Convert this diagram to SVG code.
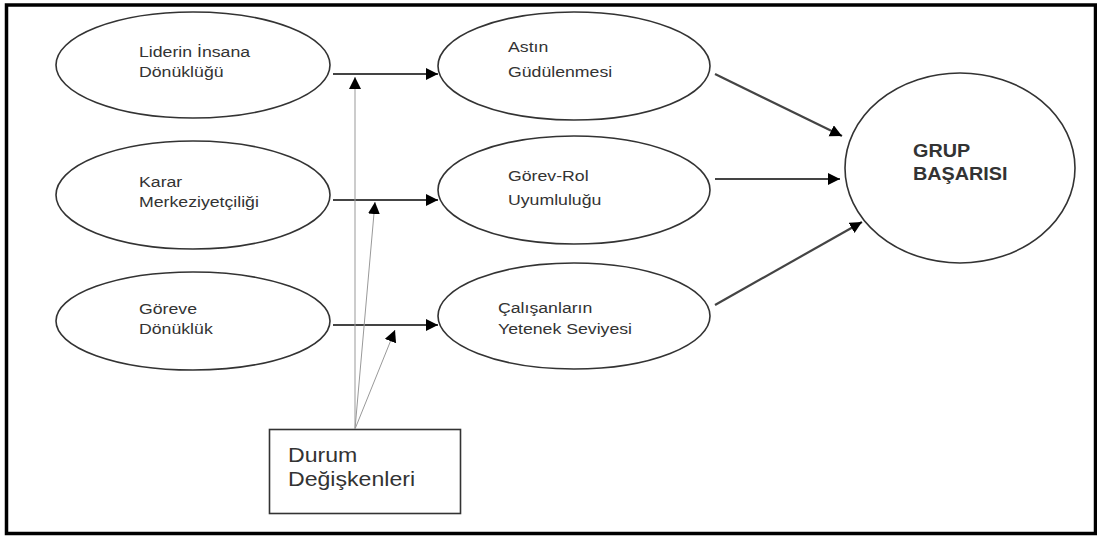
<svg xmlns="http://www.w3.org/2000/svg" width="1097" height="538" viewBox="0 0 1097 538">
<style>
.frame{fill:#fff;stroke:#000;stroke-width:3.5}
.node{fill:#fff;stroke:#333;stroke-width:1.6}
.t{font-family:"Liberation Sans",Arial,sans-serif;font-size:15px;fill:#333}
.tb{font-family:"Liberation Sans",Arial,sans-serif;font-size:18px;font-weight:bold;fill:#333}
.tr{font-family:"Liberation Sans",Arial,sans-serif;font-size:21px;fill:#333}
.thick{stroke:#444;stroke-width:2.2;fill:none}
.thin{stroke:#999;stroke-width:1;fill:none}
</style>
<defs>
<marker id="ah" markerUnits="userSpaceOnUse" markerWidth="14" markerHeight="14" refX="12" refY="6" orient="auto">
<path d="M0,0 L12,6 L0,12 Z" fill="#000"/>
</marker>
</defs>
<rect class="frame" x="6.5" y="5" width="1089" height="528.5"/>
<g id="n1"><ellipse class="node" cx="193" cy="65" rx="137" ry="53"/>
<text class="t" transform="translate(139,57) scale(1.18,1)">Liderin İnsana</text>
<text class="t" transform="translate(139,77) scale(1.18,1)">Dönüklüğü</text></g>
<g id="n2"><ellipse class="node" cx="193" cy="195" rx="137" ry="54"/>
<text class="t" transform="translate(139,187) scale(1.18,1)">Karar</text>
<text class="t" transform="translate(139,207) scale(1.18,1)">Merkeziyetçiliği</text></g>
<g id="n3"><ellipse class="node" cx="193" cy="321" rx="137" ry="49"/>
<text class="t" transform="translate(139,314) scale(1.18,1)">Göreve</text>
<text class="t" transform="translate(139,334) scale(1.18,1)">Dönüklük</text></g>
<g id="m1"><ellipse class="node" cx="574" cy="66" rx="136" ry="54"/>
<text class="t" transform="translate(508,52) scale(1.18,1)">Astın</text>
<text class="t" transform="translate(508,77) scale(1.18,1)">Güdülenmesi</text></g>
<g id="m2"><ellipse class="node" cx="574" cy="190" rx="136" ry="54"/>
<text class="t" transform="translate(508,181) scale(1.18,1)">Görev-Rol</text>
<text class="t" transform="translate(508,205) scale(1.18,1)">Uyumluluğu</text></g>
<g id="m3"><ellipse class="node" cx="574" cy="316" rx="136" ry="53"/>
<text class="t" transform="translate(498,313) scale(1.18,1)">Çalışanların</text>
<text class="t" transform="translate(498,334) scale(1.18,1)">Yetenek Seviyesi</text></g>
<g id="goal"><ellipse class="node" cx="960" cy="168" rx="115" ry="95"/>
<text class="tb" transform="translate(913,157) scale(1.1,1)">GRUP</text>
<text class="tb" transform="translate(913,180) scale(1.1,1)">BAŞARISI</text></g>
<g id="durum"><rect class="node" x="269.5" y="429.5" width="191" height="84"/>
<text class="tr" transform="translate(288,462) scale(1.1,1)">Durum</text>
<text class="tr" transform="translate(288,486) scale(1.1,1)">Değişkenleri</text></g>
<g id="connectors">
<line class="thick" x1="333" y1="74" x2="438" y2="74" marker-end="url(#ah)"/>
<line class="thick" x1="333" y1="200" x2="438" y2="200" marker-end="url(#ah)"/>
<line class="thick" x1="333" y1="325" x2="438" y2="325" marker-end="url(#ah)"/>
<line class="thick" x1="715" y1="74" x2="842" y2="136" marker-end="url(#ah)"/>
<line class="thick" x1="715" y1="179" x2="840" y2="179" marker-end="url(#ah)"/>
<line class="thick" x1="715" y1="305" x2="862" y2="222" marker-end="url(#ah)"/>
<line class="thin" x1="355" y1="429" x2="355" y2="77" marker-end="url(#ah)"/>
<line class="thin" x1="355" y1="429" x2="375" y2="202" marker-end="url(#ah)"/>
<line class="thin" x1="355" y1="429" x2="395" y2="330" marker-end="url(#ah)"/>
</g>
</svg>
